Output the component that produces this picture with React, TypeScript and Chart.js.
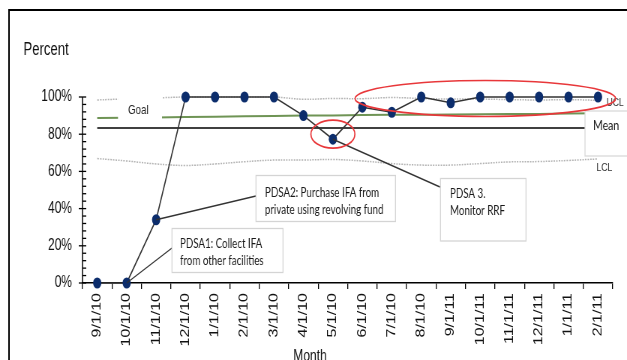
import React, { useEffect, useRef } from "react";
import { Chart, registerables } from "chart.js";

Chart.register(...registerables);

// ---------- data ----------
const categories = [
  "9/1/10", "10/1/10", "11/1/10", "12/1/10", "1/1/10", "2/1/10", "3/1/10", "4/1/10", "5/1/10",
  "6/1/10", "7/1/10", "8/1/10", "9/1/11", "10/1/11", "11/1/11", "12/1/11", "1/1/11", "2/1/11",
];
const percentValues = [0, 0, 34, 100, 100, 100, 100, 90, 77.3, 94.5, 91.8, 100, 96.9, 100, 100, 100, 100, 100];
const meanValues = [83.3, 83.3, 83.3, 83.3, 83.3, 83.3, 83.3, 83.3, 83.3, 83.3, 83.3, 83.3, 83.3, 83.3, 83.3, 83.3, 83.3, 83.3];
const goalValues = [88.7, 88.9, 89.0, 89.2, 89.4, 89.6, 89.8, 90.0, 90.1, 90.3, 90.4, 90.5, 90.6, 90.7, 90.8, 90.9, 91.1, 91.2];
const uclValues = [98.4, 99.0, 99.5, 100, 100, 100, 100, 98.8, 99.2, 99.1, 99.7, 99.2, 98.9, 98.9, 98.6, 98.4, 98.6, 98.2];
const lclValues = [66.9, 65.6, 64.0, 63.2, 64.0, 65.2, 66.1, 66.1, 66.4, 65.6, 64.2, 63.4, 63.4, 64.2, 65.1, 65.3, 65.9, 66.7];
const yTickValues = [0, 20, 40, 60, 80, 100];

const pdsa1Lines = ["PDSA1: Collect IFA", "from other facilities"];
const pdsa2Lines = ["PDSA2: Purchase IFA from", "private using revolving fund"];
const pdsa3Lines = ["PDSA 3.", "Monitor RRF"];

// canvas is drawn wide and displayed compressed horizontally (like the reference)
const CW = 836;
const CH = 360;
const S = CW / 627;

const AXIS_FONT = "'Liberation Sans', Arial, sans-serif";
const NOTE_FONT = "Lato, 'Open Sans', sans-serif";

function drawNoteBox(ctx: CanvasRenderingContext2D, x1: number, y1: number, x2: number, y2: number, lines: string[], tx: number, ty: number, lh: number) {
  ctx.fillStyle = "#ffffff";
  ctx.fillRect(x1 * S, y1, (x2 - x1) * S, y2 - y1);
  ctx.strokeStyle = "#d4d4d4";
  ctx.lineWidth = 1.3;
  ctx.strokeRect(x1 * S, y1, (x2 - x1) * S, y2 - y1);
  ctx.fillStyle = "#1a1a1a";
  ctx.font = `13px ${NOTE_FONT}`;
  ctx.textAlign = "left";
  ctx.textBaseline = "middle";
  lines.forEach((l, i) => ctx.fillText(l, tx * S, ty + i * lh));
}

const annotPlugin = {
  id: "annot",
  afterDatasetsDraw(chart: any) {
    const ctx: CanvasRenderingContext2D = chart.ctx;
    const xs = chart.scales.x;
    const ys = chart.scales.y;
    const pts = chart.getDatasetMeta(0).data;
    ctx.save();

    // Goal label
    ctx.fillStyle = "#ffffff";
    ctx.fillRect(118 * S, 90, 44 * S, 32);
    ctx.fillStyle = "#222";
    ctx.font = `13px ${AXIS_FONT}`;
    ctx.textAlign = "left";
    ctx.textBaseline = "middle";
    ctx.fillText("Goal", 128 * S, 110.5);

    // Mean box
    ctx.fillStyle = "#ffffff";
    ctx.fillRect(585 * S, 111, 60 * S, 45);
    ctx.strokeStyle = "#d9d9d9";
    ctx.lineWidth = 1.3;
    ctx.strokeRect(585 * S, 111, 60 * S, 45);
    ctx.fillStyle = "#1a1a1a";
    ctx.font = `14px ${NOTE_FONT}`;
    ctx.fillText("Mean", 593 * S, 125.5);

    // UCL / LCL labels
    ctx.fillStyle = "#333";
    ctx.font = `11.5px ${AXIS_FONT}`;
    ctx.fillText("UCL", 606.5 * S, 102.5);
    ctx.fillText("LCL", 596.5 * S, 167.5);

    // connectors
    ctx.strokeStyle = "#333";
    ctx.lineWidth = 1.4;
    const conn = (p: any, ex: number, ey: number) => {
      ctx.beginPath();
      ctx.moveTo(p.x, p.y);
      ctx.lineTo(ex * S, ey);
      ctx.stroke();
    };
    conn(pts[1], 172, 248);
    conn(pts[2], 256, 196);
    conn(pts[8], 440, 187);

    // PDSA boxes
    drawNoteBox(ctx, 172, 228.5, 283, 272.5, pdsa1Lines, 180, 243.5, 17.5);
    drawNoteBox(ctx, 256, 175.5, 395.5, 221.5, pdsa2Lines, 265, 192.5, 17);
    drawNoteBox(ctx, 440.5, 178.5, 526, 241, pdsa3Lines, 450, 193.5, 17);

    // red ellipses
    ctx.strokeStyle = "#e8373a";
    ctx.lineWidth = 1.7;
    const l = xs.getPixelForValue(8.75);
    const r = xs.getPixelForValue(17.6);
    ctx.beginPath();
    ctx.ellipse((l + r) / 2, ys.getPixelForValue(99.2), (r - l) / 2, 18, 0, 0, Math.PI * 2);
    ctx.stroke();
    ctx.beginPath();
    ctx.ellipse(pts[8].x, ys.getPixelForValue(80), 22 * S, 14, 0, 0, Math.PI * 2);
    ctx.stroke();

    ctx.restore();
  },
  afterDraw(chart: any) {
    const ctx: CanvasRenderingContext2D = chart.ctx;
    const ys = chart.scales.y;
    const left = chart.chartArea.left;
    ctx.save();
    ctx.strokeStyle = "#000";
    ctx.lineWidth = 1.5;
    ctx.beginPath();
    ctx.moveTo(left, ys.getPixelForValue(0));
    ctx.lineTo(left, ys.getPixelForValue(100));
    ctx.stroke();
    ctx.lineWidth = 1.3;
    for (let v = 0; v <= 100; v += 4) {
      const py = ys.getPixelForValue(v);
      const major = yTickValues.includes(v);
      ctx.beginPath();
      ctx.moveTo(major ? left - 5 : left, py);
      ctx.lineTo(left + 5, py);
      ctx.stroke();
    }

    // titles
    ctx.fillStyle = "#111";
    ctx.font = `17.5px ${AXIS_FONT}`;
    ctx.textAlign = "left";
    ctx.textBaseline = "middle";
    ctx.fillText("Percent", 23.5 * S, 50);
    ctx.font = `16px ${AXIS_FONT}`;
    ctx.textAlign = "center";
    ctx.textBaseline = "top";
    ctx.fillText("Month", 310 * S, 349);

    // frame
    ctx.strokeStyle = "#000";
    ctx.lineWidth = 2;
    ctx.beginPath();
    ctx.moveTo(9 * S, CH);
    ctx.lineTo(9 * S, 10);
    ctx.lineTo(CW, 10);
    ctx.stroke();
    ctx.restore();
  },
};

export default function App() {
  const ref = useRef<HTMLCanvasElement | null>(null);

  useEffect(() => {
    if (!ref.current) return;
    const chart = new Chart(ref.current, {
      type: "line",
      data: {
        labels: categories,
        datasets: [
          {
            label: "Percent",
            data: percentValues,
            borderColor: "#333333",
            borderWidth: 1.6,
            pointRadius: 5.5,
            pointBackgroundColor: "#0c2d6c",
            pointBorderColor: "#0c2d6c",
            pointBorderWidth: 0,
            clip: false as any,
          },
          {
            label: "Mean",
            data: meanValues,
            borderColor: "#000000",
            borderWidth: 1.5,
            pointRadius: 0,
          },
          {
            label: "Goal",
            data: goalValues,
            borderColor: "#6f9455",
            borderWidth: 2,
            pointRadius: 0,
          },
          {
            label: "UCL",
            data: uclValues,
            borderColor: "#b3b3b3",
            borderWidth: 1.5,
            borderDash: [2, 1.5],
            pointRadius: 0,
            tension: 0.4,
            clip: false as any,
          },
          {
            label: "LCL",
            data: lclValues,
            borderColor: "#b3b3b3",
            borderWidth: 1.5,
            borderDash: [2, 1.5],
            pointRadius: 0,
            tension: 0.4,
          },
        ],
      },
      options: {
        animation: false,
        responsive: false,
        devicePixelRatio: 1,
        layout: { padding: { top: 97, right: 19, left: 0, bottom: 0 } },
        plugins: { legend: { display: false }, tooltip: { enabled: false } },
        scales: {
          x: {
            offset: true,
            grid: { display: true, drawOnChartArea: false, drawTicks: true, tickLength: 6, color: "#000", lineWidth: 1.3, offset: true },
            border: { display: true, color: "#000", width: 1.6 },
            ticks: {
              autoSkip: false,
              maxRotation: 90,
              minRotation: 90,
              padding: 4,
              color: "#111",
              font: { family: AXIS_FONT, size: 16 },
            },
            afterFit: (s: any) => { s.height = 77; },
          },
          y: {
            min: 0,
            max: 100,
            grid: { display: false, drawTicks: false },
            border: { display: false },
            ticks: {
              stepSize: 20,
              padding: 14,
              color: "#111",
              font: { family: AXIS_FONT, size: 16 },
              callback: (v: any) => `${v}%`,
            },
            afterFit: (s: any) => { s.width = 110; },
          },
        },
      },
      plugins: [annotPlugin],
    });
    return () => chart.destroy();
  }, []);

  return (
    <div style={{ position: "fixed", left: 0, top: 0, width: 627, height: 360, background: "#fff" }}>
      <canvas ref={ref} width={CW} height={CH} style={{ width: "627px", height: "360px", display: "block" }} />
    </div>
  );
}
